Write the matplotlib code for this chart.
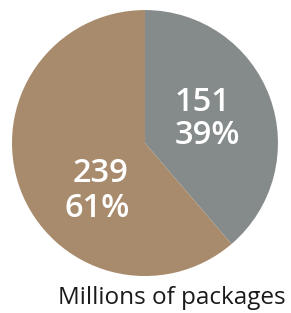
import matplotlib
matplotlib.use("Agg")
import matplotlib.pyplot as plt

categories = ["Gray", "Brown"]
values = [151, 239]
colors = ["#858B8B", "#A88B6C"]

fig = plt.figure(figsize=(2.91, 3.13), dpi=100)
ax = fig.add_axes([0.0412, 0.118, 0.914, 0.85])
ax.pie(values, colors=colors, startangle=90, counterclock=False, radius=1.0,
       wedgeprops=dict(linewidth=0))
ax.set_xlim(-1, 1)
ax.set_ylim(-1, 1)
ax.set_aspect("equal")
ax.axis("off")

total = sum(values)
pos = [((0.436, 0.308), (0.466, 0.06)), ((-0.338, -0.226), (-0.361, -0.489))]
for v, (p1, p2) in zip(values, pos):
    ax.text(p1[0], p1[1], f"{v}", color="white", fontsize=23.5, ha="center", va="center",
            family="Open Sans", fontweight="semibold")
    ax.text(p2[0], p2[1], f"{round(100*v/total)}%", color="white", fontsize=23.5, ha="center",
            va="center", family="Open Sans", fontweight="semibold")

fig.text(172/291, 1 - 298/313, "Millions of packages", fontsize=17.5, ha="center", va="center",
         family="Open Sans", color="#1a1a1a")
fig.savefig("out.png", dpi=100)
